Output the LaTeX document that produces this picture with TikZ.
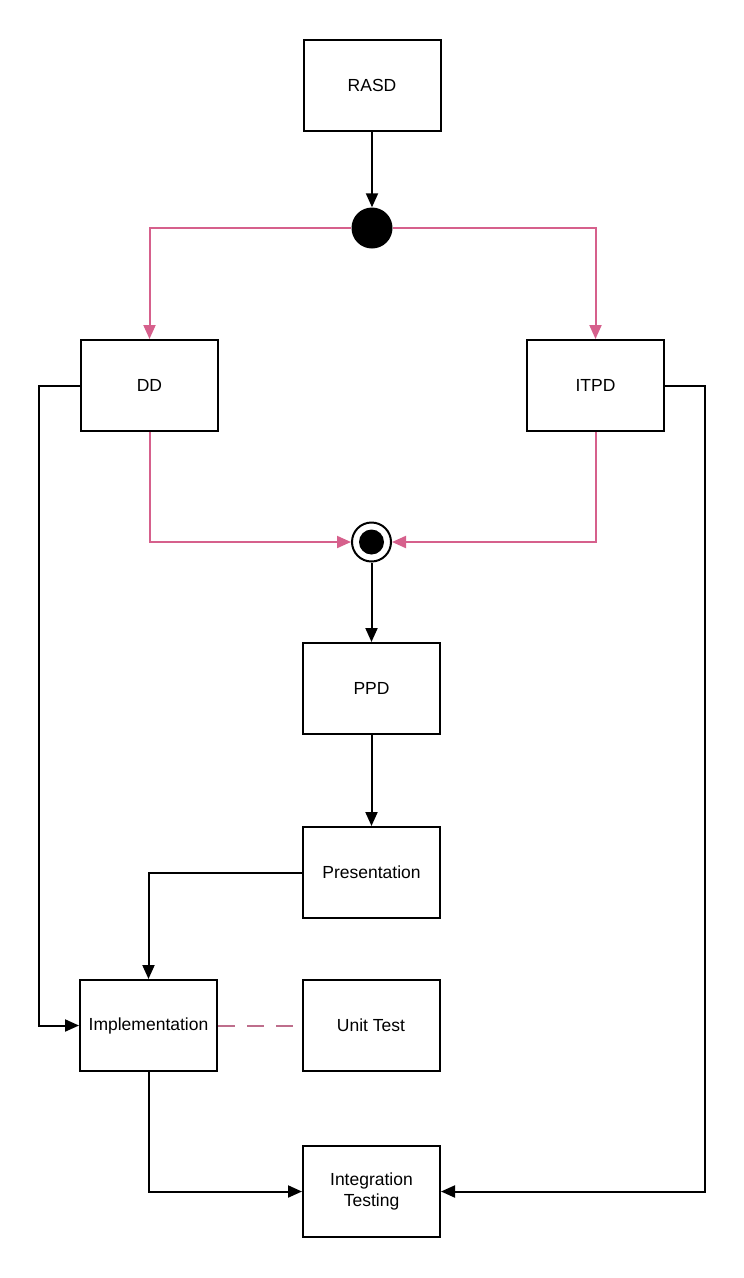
\documentclass[tikz,border=0pt]{standalone}
\usepackage{fontspec}
\setmainfont{Liberation Sans}
\usepackage{tikz}
\usetikzlibrary{positioning, arrows.meta}
\definecolor{rose}{RGB}{214,96,140}
\definecolor{roseterne}{RGB}{190,110,140}
\tikzstyle{etape}=[rectangle, draw=black, line width=2pt, minimum width=137pt, minimum height=91pt, inner sep=2pt, align=center, font=\fontsize{17.5}{21}\selectfont]
\tikzstyle{fleche}=[line width=2pt, -{Triangle[length=14pt,width=12pt]}]
\tikzstyle{flecherose}=[fleche, draw=rose, -{Triangle[length=14pt,width=12pt,fill=rose]}]

\begin{document}
\begin{tikzpicture}[x=1pt, y=-1pt]
        \useasboundingbox (0,0) rectangle (744,1278);
        % Les nœuds
        \node[etape] (RASD) at (372,85.5) {RASD};
        \node[circle, fill=black, minimum size=41pt, inner sep=0pt] (fork) at (372,228) {};
        \node[etape] (DD) at (149.5,385.5) {DD};
        \node[etape] (ITPD) at (595.5,385.5) {ITPD};
        \node[circle, draw=black, line width=2pt, minimum size=39pt, inner sep=0pt] (join) at (371.5,542) {};
        \node[circle, fill=black, minimum size=25pt, inner sep=0pt] at (join) {};
        \node[etape] (PPD) at (371.5,688.5) {PPD};
        \node[etape] (Pres) at (371.5,872.5) {Presentation};
        \node[etape] (Impl) at (148.5,1025.5) {Implementation};
        \node[etape] (Unit) at (371,1025.5) {Unit Test};
        \node[etape] (Integ) at (371.5,1191.5) {Integration\\Testing};

        % Les arêtes
        \draw[fleche] (RASD) -- (fork);
        \draw[flecherose] (fork) -| (DD);
        \draw[flecherose] (fork) -| (ITPD);
        \draw[flecherose] (DD) |- (join);
        \draw[flecherose] (ITPD) |- (join);
        \draw[fleche] (join) -- (PPD);
        \draw[fleche] (PPD) -- (Pres);
        \draw[fleche] (Pres.west) -| (Impl.north);
        \draw[fleche] (DD.west) -- ++(-41,0) |- (Impl.west);
        \draw[fleche] (ITPD.east) -- ++(40,0) |- (Integ.east);
        \draw[fleche] (Impl.south) |- (Integ.west);
        \draw[roseterne, line width=2pt, dash pattern=on 17pt off 12pt] (Impl.east) -- (Unit.west);
    \end{tikzpicture}
\end{document}
